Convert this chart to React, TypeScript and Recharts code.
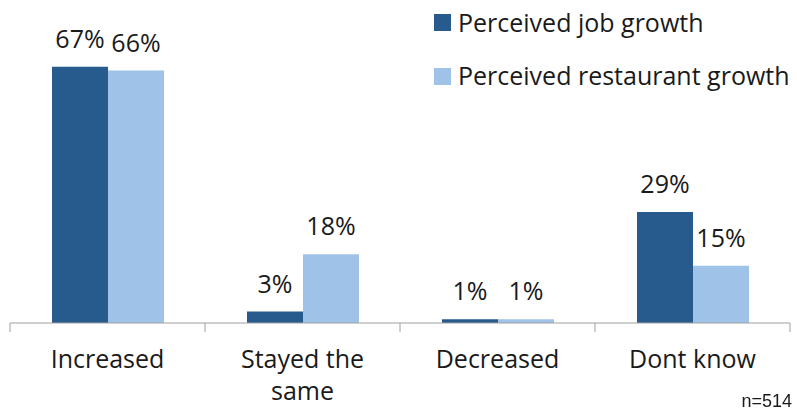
import { BarChart, Bar, XAxis, YAxis, LabelList } from 'recharts';

const categories = ['Increased', 'Stayed the same', 'Decreased', 'Dont know'];
const jobGrowth = [67, 3, 1, 29];
const restaurantGrowth = [66, 18, 1, 15];
const seriesNames = ['Perceived job growth', 'Perceived restaurant growth'];
const sampleNote = 'n=514';

const data = categories.map((name, i) => ({
  name,
  job: jobGrowth[i],
  restaurant: restaurantGrowth[i],
}));

const DARK = '#275b8e';
const LIGHT = '#9fc2e8';
const AXIS = '#a0a0a0';
const FONT = '"Open Sans", Lato, sans-serif';
const FS = 25;
const TEXT = '#1a1a1a';

function wrap(text: string, max: number) {
  const lines: string[] = [];
  let cur = '';
  text.split(' ').forEach((w) => {
    const next = cur ? `${cur} ${w}` : w;
    if (next.length > max && cur) {
      lines.push(cur);
      cur = w;
    } else cur = next;
  });
  if (cur) lines.push(cur);
  return lines;
}

// y arrives at the axis line (tickSize and tickMargin are 0)
function CategoryTick(props: any) {
  const { x, y, payload, index } = props;
  const half = payload.offset || 97;
  const lines = wrap(payload.value, 11);
  return (
    <g>
      <line x1={x - half} x2={x - half} y1={y} y2={y + 9} stroke={AXIS} />
      {index === categories.length - 1 && (
        <line x1={x + half} x2={x + half} y1={y} y2={y + 9} stroke={AXIS} />
      )}
      {lines.map((l, i) => (
        <text
          key={i}
          x={x}
          y={y + 45 + i * 32}
          textAnchor="middle"
          fontSize={FS}
          fontFamily={FONT}
          fill={TEXT}
        >
          {l}
        </text>
      ))}
    </g>
  );
}

const labelStyle = { fontSize: FS, fontFamily: FONT, fill: TEXT };

export default function App() {
  const colors = [DARK, LIGHT];
  return (
    <div style={{ position: 'fixed', top: 0, left: 0, width: 797, height: 410, background: '#fff' }}>
      <BarChart
        width={797}
        height={410}
        data={data}
        margin={{ top: 17, right: 7, left: 10, bottom: 27 }}
        barGap={0}
      >
        <XAxis
          dataKey="name"
          axisLine={{ stroke: AXIS }}
          tickLine={false}
          tickSize={0}
          tickMargin={0}
          height={60}
          interval={0}
          tick={<CategoryTick />}
        />
        <YAxis hide domain={[0, 80]} />
        <Bar dataKey="job" fill={DARK} barSize={56} isAnimationActive={false}>
          <LabelList dataKey="job" position="top" offset={19} formatter={(v: any) => `${v}%`} style={labelStyle} />
        </Bar>
        <Bar dataKey="restaurant" fill={LIGHT} barSize={56} isAnimationActive={false}>
          <LabelList dataKey="restaurant" position="top" offset={19} formatter={(v: any) => `${v}%`} style={labelStyle} />
        </Bar>
      </BarChart>
      {seriesNames.map((n, i) => (
        <div key={n}>
          <span
            style={{ position: 'absolute', left: 434, top: 14 + i * 54, width: 17, height: 17, background: colors[i] }}
          />
          <span
            style={{
              position: 'absolute',
              left: 458,
              top: 10 + i * 53,
              fontFamily: FONT,
              fontSize: FS,
              lineHeight: 1,
              color: TEXT,
              whiteSpace: 'nowrap',
            }}
          >
            {n}
          </span>
        </div>
      ))}
      <div
        style={{
          position: 'absolute',
          right: 5,
          top: 392,
          fontFamily: '"Liberation Sans", sans-serif',
          fontSize: 18,
          lineHeight: 1,
          color: TEXT,
        }}
      >
        {sampleNote}
      </div>
    </div>
  );
}
